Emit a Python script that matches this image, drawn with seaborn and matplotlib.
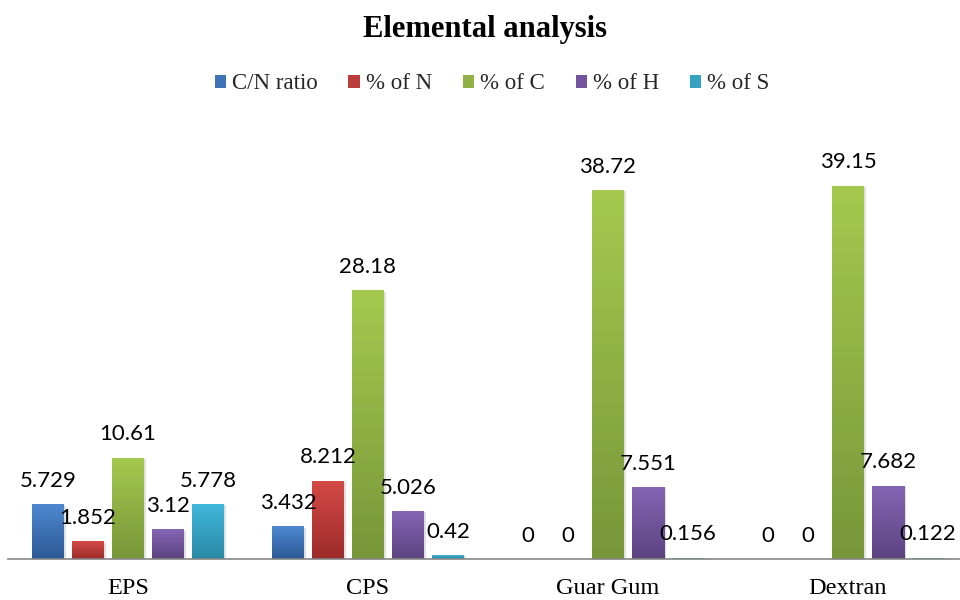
import numpy as np
import pandas as pd
import seaborn as sns
import matplotlib
matplotlib.use("Agg")
import matplotlib.pyplot as plt
from matplotlib.colors import LinearSegmentedColormap
from matplotlib.patches import Patch
import matplotlib.patheffects as pe

# Samples and measured quantities
samples = ["EPS", "CPS", "Guar Gum", "Dextran"]
series = ["C/N ratio", "% of N", "% of C", "% of H", "% of S"]
cn_ratio = [5.729, 3.432, 0, 0]
pct_n = [1.852, 8.212, 0, 0]
pct_c = [10.61, 28.18, 38.72, 39.15]
pct_h = [3.12, 5.026, 7.551, 7.682]
pct_s = [5.778, 0.42, 0.156, 0.122]

# Light (top) and dark (bottom) shades for each series
top_colors = ["#4f88d0", "#d44a46", "#a4c94e", "#8565b4", "#40b8da"]
bottom_colors = ["#2c5a96", "#9c2b29", "#77973a", "#5c4380", "#2a8aa6"]
mid_colors = ["#3f72b6", "#bb3c39", "#8fb145", "#73549c", "#35a2c2"]

values = [cn_ratio, pct_n, pct_c, pct_h, pct_s]
df = pd.DataFrame({
    "sample": [s for _ in series for s in samples],
    "series": [name for name in series for _ in samples],
    "value": [v for vals in values for v in vals],
})

sns.set_theme(style="white")
plt.rcParams["font.family"] = ["Liberation Serif", "DejaVu Serif"]

fig = plt.figure(figsize=(9.6, 6), dpi=100)
ymax = 45.0
ax = fig.add_axes([8 / 960, 1 - 559 / 600, 960 / 960, (559 - 130) / 600])

sns.barplot(data=df, x="sample", y="value", hue="series", order=samples,
            hue_order=series, palette=mid_colors, width=5 * 40 / 240,
            gap=0.2, dodge=True, legend=False, ax=ax, saturation=1,
            linewidth=0)

ax.set_xlim(-0.5, 3.5)
ax.set_ylim(0, ymax)

# Vertical gradient fill and soft shadow on every bar
for i, cont in enumerate(ax.containers):
    cmap = LinearSegmentedColormap.from_list(
        f"g{i}", [bottom_colors[i], top_colors[i]])
    for patch in cont.patches:
        h = patch.get_height()
        if h <= 0:
            continue
        x0 = patch.get_x()
        w = patch.get_width()
        patch.set_path_effects([
            pe.SimplePatchShadow(offset=(1.5, -1.0), shadow_rgbFace="#808080",
                                 alpha=0.25),
            pe.Normal()])
        grad = np.linspace(0, 1, 64).reshape(-1, 1)
        im = ax.imshow(grad, extent=[x0, x0 + w, 0, h], origin="lower",
                       aspect="auto", cmap=cmap, zorder=patch.get_zorder() + 0.1,
                       interpolation="bicubic")
        im.set_clip_path(patch)

ax.set_xlim(-0.5, 3.5)
ax.set_ylim(0, ymax)

# Value labels above each bar
for i, cont in enumerate(ax.containers):
    for patch, v in zip(cont.patches, values[i]):
        cx = patch.get_x() + patch.get_width() / 2
        ax.annotate(f"{v:g}", xy=(cx, patch.get_height()), xytext=(0, 12.5),
                    textcoords="offset points", ha="center", va="baseline",
                    fontsize=16, family=["Lato", "DejaVu Sans"], color="black",
                    zorder=10)

for side in ["top", "right", "left"]:
    ax.spines[side].set_visible(False)
ax.spines["bottom"].set_color("#868686")
ax.spines["bottom"].set_linewidth(1.2)
ax.set_yticks([])
ax.set_xlabel("")
ax.set_ylabel("")
ax.tick_params(axis="x", length=0, pad=14, labelsize=17.5, labelcolor="black")

# Legend row under the title
handles = [Patch(facecolor=c, edgecolor="none") for c in mid_colors]
fig.legend(handles, series, loc="center", bbox_to_anchor=(492 / 960, 1 - 84 / 600),
           ncol=5, frameon=False, fontsize=16.5, handlelength=0.5,
           handleheight=0.5, handletextpad=0.25, columnspacing=1.35)

fig.text(485 / 960, 1 - 29 / 600, "Elemental analysis", ha="center", va="center",
         fontsize=22, fontweight="bold", color="black")

fig.savefig("out.png", dpi=100)
